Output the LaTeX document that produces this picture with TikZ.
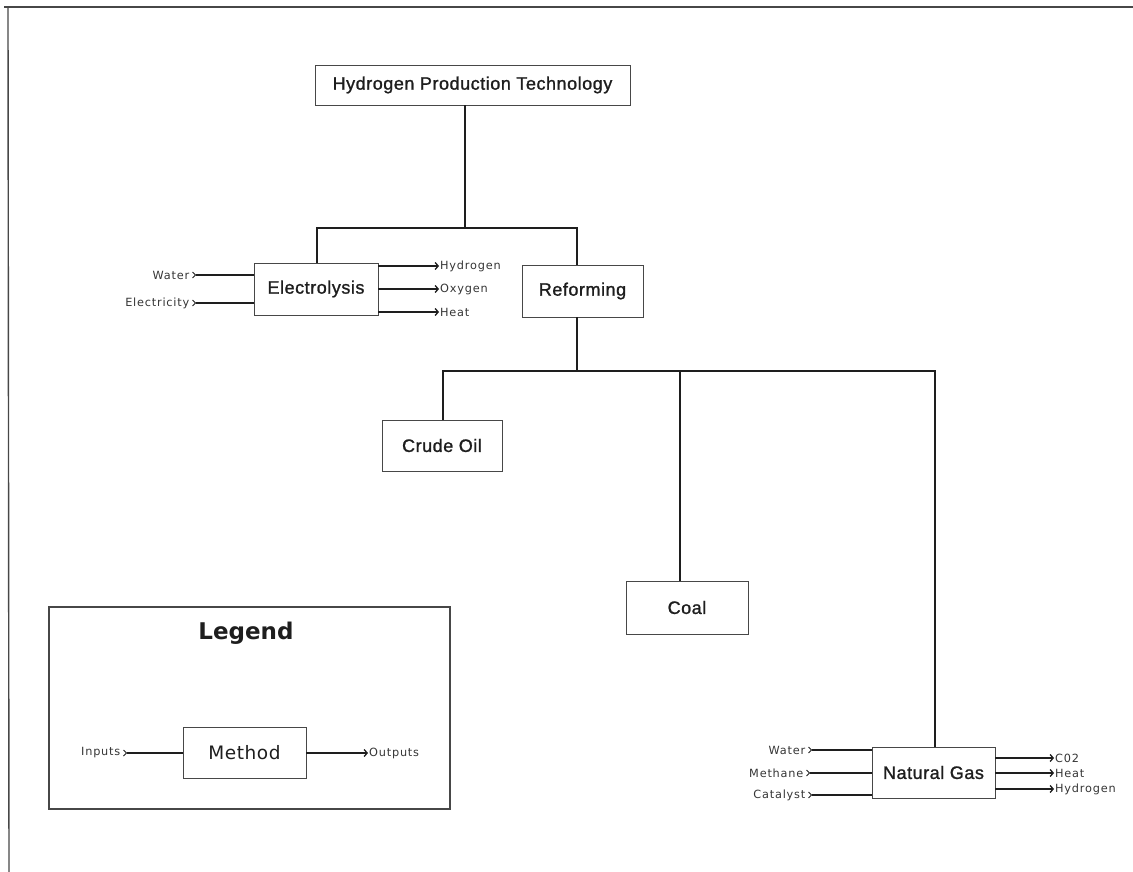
\documentclass[tikz,border=0pt]{standalone}
\usepackage{fontspec}
\setmainfont{Liberation Sans}
\newfontfamily\boxfont[LetterSpace=3,FakeBold=1.2]{Liberation Sans}
\newfontfamily\labfont[LetterSpace=7]{DejaVu Sans}
\newfontfamily\legfont{DejaVu Sans}
\newfontfamily\methfont[LetterSpace=3]{DejaVu Sans}
\usetikzlibrary{arrows.meta}
\definecolor{ink}{HTML}{1E1E1E}
\definecolor{edge}{HTML}{474747}
\tikzset{
  box/.style={draw=edge, line width=0.9pt, rectangle, inner sep=0pt, fill=white,
    font=\boxfont\fontsize{18}{21}\selectfont, text=ink},
  lab/.style={inner sep=1pt, font=\labfont\fontsize{11.3}{13}\selectfont, text=ink!90},
  inlab/.style={lab, inner xsep=2.5pt},
  tree/.style={draw=ink, line width=2.7pt},
  io/.style={draw=ink, line width=2pt},
  inarrow/.style={io, {Straight Barb[reversed,length=3pt,width=6pt,line width=1pt]}-},
  outarrow/.style={io, -{Straight Barb[length=3pt,width=7pt,line width=1.3pt]}},
}
\begin{document}
\begin{tikzpicture}[x=1pt,y=-1pt]
\useasboundingbox (0,0) rectangle (1133,872);
% outer frame
\draw[draw=edge, line width=1.4pt] (4,7) -- (1133,7);
\draw[draw=edge, line width=1.4pt] (8,7) -- (9,872);

% nodes
\node[box, minimum width=315pt, minimum height=40pt] (top) at (472.5,85) {Hydrogen Production Technology};
\node[box, minimum width=124pt, minimum height=52pt] (elec) at (316,289) {Electrolysis};
\node[box, minimum width=121pt, minimum height=52pt] (ref) at (582.5,291) {Reforming};
\node[box, minimum width=120pt, minimum height=51pt] (crude) at (442,445.5) {Crude Oil};
\node[box, minimum width=122pt, minimum height=53pt] (coal) at (687,607.5) {Coal};
\node[box, minimum width=123pt, minimum height=51pt] (ng) at (933.5,772.5) {Natural Gas};

% tree connectors
\coordinate (j0) at (465,228);
\coordinate (jl) at (317,228);
\coordinate (jr) at (577,228);
\draw[tree] (top.south -| j0) -- (j0);
\draw[tree] (elec.north -| jl) -- (jl) -- (jr) -- (ref.north -| jr);
\coordinate (k0) at (577,371);
\coordinate (kl) at (443,371);
\coordinate (kc) at (680,371);
\coordinate (kr) at (935,371);
\draw[tree] (ref.south -| k0) -- (k0);
\draw[tree] (crude.north -| kl) -- (kl) -- (kr) -- (ng.north -| kr);
\draw[tree] (kc) -- (coal.north -| kc);

% electrolysis inputs / outputs
\node[inlab, anchor=east] (ew) at (192,275) {Water};
\node[inlab, anchor=east] (ee) at (192,303) {Electricity};
\draw[inarrow] (ew.east) -- (elec.west |- ew.east);
\draw[inarrow] (ee.east) -- (elec.west |- ee.east);
\node[lab, anchor=west] (eh) at (439,266) {Hydrogen};
\node[lab, anchor=west] (eo) at (439,289) {Oxygen};
\node[lab, anchor=west] (et) at (439,312) {Heat};
\draw[outarrow] (elec.east |- eh.west) -- (eh.west);
\draw[outarrow] (elec.east |- eo.west) -- (eo.west);
\draw[outarrow] (elec.east |- et.west) -- (et.west);

% natural gas inputs / outputs
\node[inlab, anchor=east] (nw) at (808,750) {Water};
\node[inlab, anchor=east] (nm) at (806,773) {Methane};
\node[inlab, anchor=east] (nc) at (808,795) {Catalyst};
\draw[inarrow] (nw.east) -- (ng.west |- nw.east);
\draw[inarrow] (nm.east) -- (ng.west |- nm.east);
\draw[inarrow] (nc.east) -- (ng.west |- nc.east);
\node[lab, anchor=west] (no) at (1054,758) {C02};
\node[lab, anchor=west] (nh) at (1054,773) {Heat};
\node[lab, anchor=west] (ny) at (1054,789) {Hydrogen};
\draw[outarrow] (ng.east |- no.west) -- (no.west);
\draw[outarrow] (ng.east |- nh.west) -- (nh.west);
\draw[outarrow] (ng.east |- ny.west) -- (ny.west);

% legend
\node[draw=edge, line width=1.4pt, minimum width=401pt, minimum height=202pt, inner sep=0pt] (legend) at (249.5,708) {};
\node[font=\legfont\bfseries\fontsize{23}{26}\selectfont, text=ink] (legtitle) at (246,633) {Legend};
\node[box, font=\methfont\fontsize{18.5}{21}\selectfont, minimum width=123pt, minimum height=51pt] (method) at (244.5,752.5) {Method};
\node[inlab, anchor=east] (li) at (123,753) {Inputs};
\node[lab, anchor=west] (lo) at (368,753) {Outputs};
\draw[inarrow] (li.east) -- (method.west |- li.east);
\draw[outarrow] (method.east |- lo.west) -- (lo.west);
\end{tikzpicture}
\end{document}
